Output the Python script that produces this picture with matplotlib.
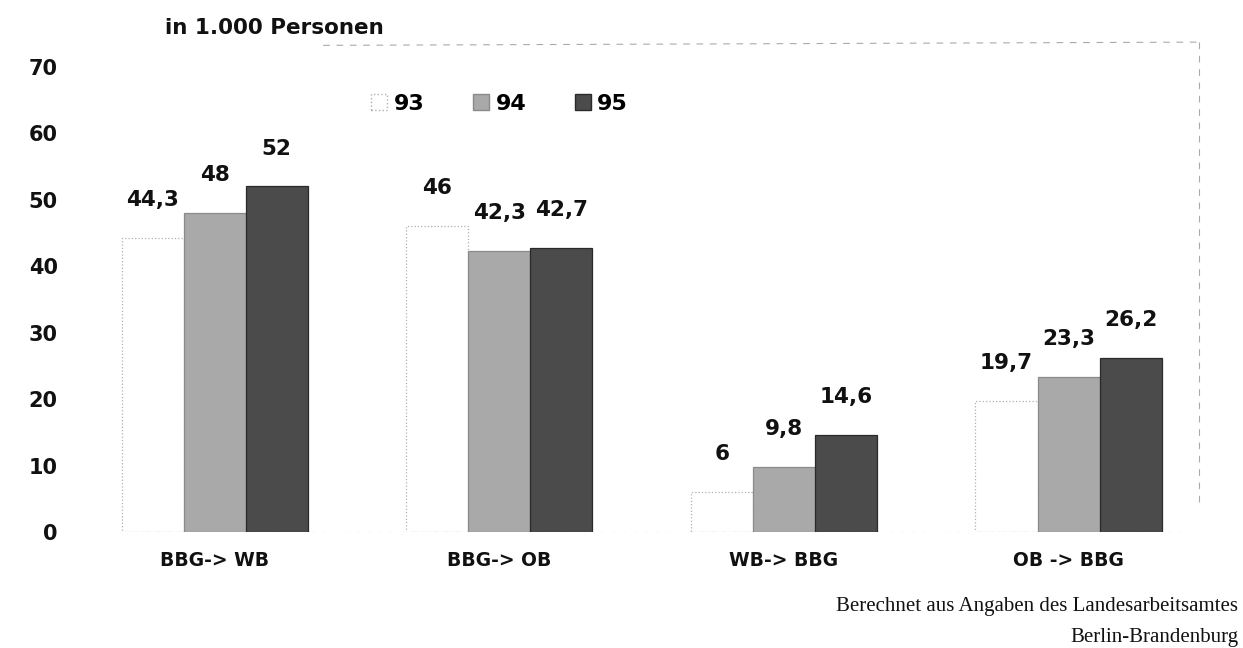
import matplotlib
matplotlib.use("Agg")
import matplotlib.pyplot as plt
import numpy as np
from matplotlib.patches import Patch
from matplotlib.lines import Line2D

categories = ["BBG-> WB", "BBG-> OB", "WB-> BBG", "OB -> BBG"]
years = ["93", "94", "95"]
v93 = [44.3, 46, 6, 19.7]
v94 = [48, 42.3, 9.8, 23.3]
v95 = [52, 42.7, 14.6, 26.2]
labels93 = ["44,3", "46", "6", "19,7"]
labels94 = ["48", "42,3", "9,8", "23,3"]
labels95 = ["52", "42,7", "14,6", "26,2"]
yticks = [0, 10, 20, 30, 40, 50, 60, 70]

fig = plt.figure(figsize=(12.43, 6.48), dpi=100)
ax = fig.add_axes([0.08, 0.179, 0.893, 0.718])

x = np.arange(len(categories))
w = 0.218
face = ["white", "#a9a9a9", "#4b4b4b"]
edge = ["#b0b0b0", "#8a8a8a", "#2a2a2a"]
series = [v93, v94, v95]
slabels = [labels93, labels94, labels95]
for i, (vals, labs) in enumerate(zip(series, slabels)):
    pos = x + (i - 1) * w
    ax.bar(pos, vals, width=w, color=face[i], edgecolor=edge[i],
           linewidth=0.9, linestyle=":" if i == 0 else "-")
    for px, v, t in zip(pos, vals, labs):
        ax.annotate(t, (px, v), xytext=(0, 20), textcoords="offset points",
                    ha="center", va="bottom", fontsize=15.5, fontweight="bold",
                    color="#111111")

ax.set_xlim(-0.405, 3.495)
ax.set_ylim(0, 70)
ax.set_yticks(yticks)
ax.set_yticklabels([str(t) for t in yticks], fontsize=15, fontweight="bold")
ax.set_xticks(x)
ax.set_xticklabels(categories, fontsize=13.5, fontweight="bold")
ax.tick_params(axis="both", length=0, colors="#111111")
ax.tick_params(axis="x", pad=14)
ax.tick_params(axis="y", pad=30)
for s in ax.spines.values():
    s.set_visible(False)
ax.axhline(0, color="#999999", lw=0.8, ls=(0, (4, 6)), xmin=0.03, xmax=0.98)

handles = [Patch(facecolor=face[i], edgecolor=edge[i], linestyle=":" if i == 0 else "-")
           for i in range(3)]
leg = fig.legend(handles, years, loc="center", bbox_to_anchor=(0.402, 0.84), ncol=3,
                 frameon=False, handlelength=0.7, handleheight=0.7, handletextpad=0.3,
                 columnspacing=2.2, prop={"weight": "bold", "size": 16})

fig.text(0.133, 0.957, "in 1.000 Personen", fontsize=15.5, fontweight="bold",
         ha="left", va="center", color="#111111")

# faint frame remnants
fig.add_artist(Line2D([0.26, 0.965], [0.93, 0.935], color="#aaaaaa", lw=0.8,
                      ls=(0, (6, 6)), transform=fig.transFigure))
fig.add_artist(Line2D([0.965, 0.965], [0.935, 0.22], color="#aaaaaa", lw=0.8,
                      ls=(0, (6, 6)), transform=fig.transFigure))

fig.text(0.996, 0.04, "Berechnet aus Angaben des Landesarbeitsamtes\nBerlin-Brandenburg",
         family="Liberation Serif", fontsize=15, ha="right", va="center",
         multialignment="right", linespacing=1.9, color="#111111")

fig.savefig("out.png", dpi=100)
